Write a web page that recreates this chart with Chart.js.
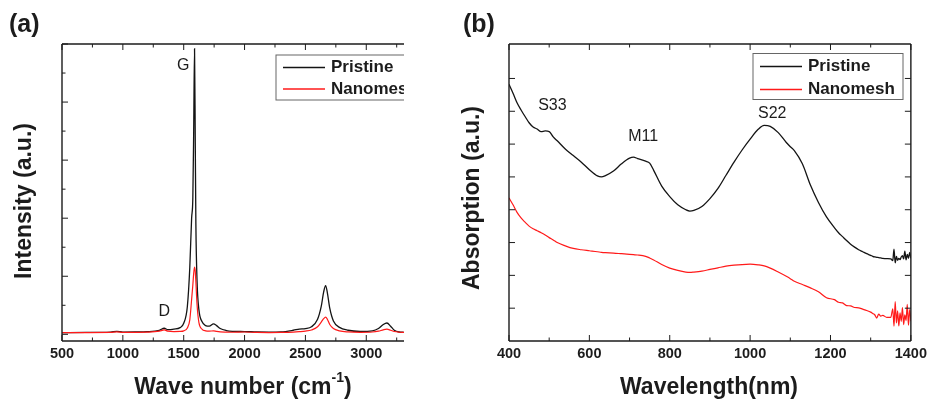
<!DOCTYPE html>
<html><head><meta charset="utf-8">
<script src="https://cdn.jsdelivr.net/npm/chart.js@4.4.1/dist/chart.umd.min.js"></script>
<style>
html,body{margin:0;padding:0;background:#fff;width:931px;height:404px;overflow:hidden;}
#wa{position:absolute;left:0;top:0;width:404px;height:404px;}
#wb{position:absolute;left:460px;top:0;width:471px;height:404px;}
canvas{display:block;}
</style></head><body>
<div id="wa"><canvas id="ca" width="404" height="404"></canvas></div>
<div id="wb"><canvas id="cb" width="471" height="404"></canvas></div>
<script>
// ---------- Panel (a): Raman ----------
const seriesNames = ['Pristine', 'Nanomesh'];
const waveNumbers = [500,700,900,950,1000,1100,1200,1300,1340,1370,1420,1470,1500,1530,1550,1565,1575,1582,1589,1595,1600,1610,1625,1650,1680,1710,1745,1770,1800,1850,1900,2000,2100,2200,2300,2400,2450,2500,2550,2600,2630,2650,2666,2680,2700,2730,2780,2850,2950,3050,3100,3140,3170,3200,3230,3270,3310];
const ramanPristine = [30,32,38,52,38,40,45,70,105,80,90,115,190,480,1150,2000,2350,3500,4920,3300,1900,900,420,220,150,140,180,150,100,65,52,48,40,38,42,70,90,100,130,260,480,730,840,720,450,230,120,70,50,60,100,170,195,140,70,40,35];
const ramanNanomesh = [28,30,32,42,32,34,38,55,75,55,48,50,60,110,250,600,850,1050,1156,1080,900,500,200,90,60,55,60,50,42,38,36,40,32,30,32,38,45,55,75,130,210,270,295,260,170,100,60,42,35,40,55,78,88,70,48,36,32];
const ramanXTicks = [500,750,1000,1250,1500,1750,2000,2250,2500,2750,3000,3250];
const ramanYTicks = [0,500,1000,1500,2000,2500,3000,3500,4000,4500,5000];
const ramanPeaks = [{text:'G', x:1497, y:4626}, {text:'D', x:1341, y:390}];

// ---------- Panel (b): Absorption ----------
const wavelengths = [400,410,420,430,440,450,460,470,480,490,500,510,520,540,560,580,600,620,630,640,660,680,700,710,720,740,750,760,780,800,820,840,850,860,880,900,920,940,960,980,1000,1020,1035,1050,1070,1090,1100,1110,1130,1150,1170,1190,1210,1220,1230,1240,1250,1260,1270,1280,1290,1300,1305,1310,1315,1320,1325,1330,1340,1350,1355,1358,1361,1364,1367,1370,1373,1376,1379,1382,1385,1388,1391,1394,1397,1400];
const absPristine = [7.82,7.55,7.26,7.04,6.84,6.65,6.52,6.46,6.38,6.40,6.38,6.22,6.10,5.85,5.65,5.45,5.22,5.03,5.00,5.04,5.18,5.40,5.57,5.60,5.56,5.48,5.42,5.20,4.72,4.40,4.15,4.00,3.96,3.98,4.10,4.34,4.65,5.05,5.45,5.82,6.15,6.45,6.57,6.54,6.35,6.05,5.92,5.80,5.40,4.75,4.22,3.78,3.45,3.30,3.18,3.06,2.95,2.86,2.78,2.72,2.66,2.61,2.58,2.56,2.55,2.54,2.53,2.52,2.51,2.50,2.45,2.80,2.38,2.58,2.46,2.52,2.48,2.56,2.60,2.50,2.74,2.47,2.64,2.52,2.70,2.52];
const absNanomesh = [4.36,4.15,3.92,3.75,3.62,3.50,3.42,3.36,3.30,3.23,3.15,3.08,3.00,2.90,2.82,2.78,2.75,2.72,2.70,2.69,2.68,2.66,2.64,2.63,2.62,2.58,2.53,2.47,2.33,2.22,2.15,2.10,2.09,2.10,2.13,2.18,2.23,2.28,2.31,2.33,2.34,2.32,2.29,2.22,2.10,1.97,1.90,1.82,1.72,1.62,1.50,1.32,1.26,1.18,1.16,1.08,1.07,1.02,1.01,0.97,0.93,0.88,0.84,0.80,0.70,0.82,0.76,0.78,0.72,0.72,0.98,0.45,1.20,0.55,0.92,0.46,0.86,0.60,1.02,0.50,0.80,0.62,1.12,0.48,0.96,0.60];
const absXTicks = [400,500,600,700,800,900,1000,1100,1200,1300,1400];
const absYTicks = [1,2,3,4,5,6,7,8];
const absBands = [{text:'S33', x:508, y:7.18}, {text:'M11', x:734, y:6.22}, {text:'S22', x:1055, y:6.93}];

const FONT = "'Liberation Sans', Arial, sans-serif";
const INK = '#1c1c1c';

function pts(xs, ys){ return xs.map((x,i)=>({x:x, y:ys[i]})); }

const decor = {
  id: 'decor',
  afterDatasetsDraw(chart, args, o) {
    const {ctx, chartArea: a} = chart;
    const xs = chart.scales.x, ys = chart.scales.y;
    ctx.save();
    ctx.strokeStyle = INK;
    ctx.lineWidth = 1.4;
    ctx.beginPath();
    if (o.sides.includes('left')) { ctx.moveTo(a.left, a.top); ctx.lineTo(a.left, a.bottom); }
    if (o.sides.includes('bottom')) { ctx.moveTo(a.left, a.bottom); ctx.lineTo(a.right, a.bottom); }
    if (o.sides.includes('top')) { ctx.moveTo(a.left, a.top); ctx.lineTo(a.right, a.top); }
    if (o.sides.includes('right')) { ctx.moveTo(a.right, a.top); ctx.lineTo(a.right, a.bottom); }
    ctx.stroke();
    ctx.lineWidth = 1;
    ctx.beginPath();
    xs.ticks.forEach(t => {
      const px = xs.getPixelForValue(t.value);
      const len = (t.value % o.xMajor === 0) ? 6 : 3.5;
      ctx.moveTo(px, a.bottom); ctx.lineTo(px, a.bottom - len);
      ctx.moveTo(px, a.top); ctx.lineTo(px, a.top + len);
    });
    ys.ticks.forEach(t => {
      const py = ys.getPixelForValue(t.value);
      const len = (t.value % o.yMajor === 0) ? 6 : 3.5;
      ctx.moveTo(a.left, py); ctx.lineTo(a.left + len, py);
      if (o.sides.includes('right')) { ctx.moveTo(a.right, py); ctx.lineTo(a.right - len, py); }
    });
    ctx.stroke();
    ctx.restore();
  },
  afterDraw(chart, args, o) {
    const {ctx} = chart;
    const xs = chart.scales.x, ys = chart.scales.y;
    ctx.save();
    ctx.fillStyle = INK;
    // panel label
    ctx.font = 'bold 25px ' + FONT;
    ctx.textAlign = 'left'; ctx.textBaseline = 'middle';
    ctx.fillText(o.panel.text, o.panel.x, o.panel.y);
    // annotations at data coordinates
    ctx.font = '16px ' + FONT;
    ctx.textAlign = 'center';
    o.notes.forEach(n => ctx.fillText(n.text, xs.getPixelForValue(n.x), ys.getPixelForValue(n.y)));
    // legend
    const L = o.legend;
    ctx.strokeStyle = '#666'; ctx.lineWidth = 1;
    ctx.strokeRect(L.x, L.y, L.w, L.h);
    ctx.font = 'bold 17px ' + FONT;
    ctx.textAlign = 'left';
    chart.data.datasets.forEach((d, i) => {
      const yy = L.y + L.rows[i];
      ctx.strokeStyle = d.borderColor; ctx.lineWidth = 1.6;
      ctx.beginPath(); ctx.moveTo(L.x + 7, yy); ctx.lineTo(L.x + 49, yy); ctx.stroke();
      ctx.fillStyle = INK;
      ctx.fillText(d.label, L.x + 55, yy);
    });
    // y title
    ctx.font = 'bold 23px ' + FONT;
    ctx.save();
    ctx.translate(o.yTitle.x, o.yTitle.y);
    ctx.rotate(-Math.PI / 2);
    ctx.textAlign = 'center';
    ctx.fillText(o.yTitle.text, 0, 0);
    ctx.restore();
    // x title (with optional superscript)
    const X = o.xTitle;
    ctx.font = 'bold 23px ' + FONT;
    const w1 = ctx.measureText(X.text).width;
    let wSup = 0, w3 = 0;
    if (X.sup) {
      ctx.font = 'bold 14px ' + FONT; wSup = ctx.measureText(X.sup).width;
      ctx.font = 'bold 23px ' + FONT; w3 = ctx.measureText(X.after).width;
    }
    let sx = X.x - (w1 + wSup + w3) / 2;
    ctx.textAlign = 'left';
    ctx.fillText(X.text, sx, X.y);
    if (X.sup) {
      ctx.font = 'bold 14px ' + FONT;
      ctx.fillText(X.sup, sx + w1, X.y - 10);
      ctx.font = 'bold 23px ' + FONT;
      ctx.fillText(X.after, sx + w1 + wSup, X.y);
    }
    ctx.restore();
  }
};

function makeChart(id, cfg) {
  return new Chart(document.getElementById(id), {
    type: 'line',
    data: {
      datasets: [
        {label: seriesNames[0], data: pts(cfg.x, cfg.s1), borderColor: '#141414', borderWidth: 1.3, pointRadius: 0, cubicInterpolationMode: 'monotone', order: 1},
        {label: seriesNames[1], data: pts(cfg.x, cfg.s2), borderColor: '#ff1a1a', borderWidth: 1.2, pointRadius: 0, cubicInterpolationMode: 'monotone', order: 0}
      ]
    },
    options: {
      responsive: false,
      animation: false,
      devicePixelRatio: 1,
      layout: {padding: {top: 44, right: cfg.padRight, left: 0, bottom: 0}},
      plugins: {
        legend: {display: false},
        tooltip: {enabled: false},
        decor: cfg.decor
      },
      scales: {
        x: {
          type: 'linear', min: cfg.xMin, max: cfg.xMax,
          grid: {display: false, drawTicks: false},
          border: {display: false},
          afterBuildTicks: s => { s.ticks = cfg.xTicks.map(v => ({value: v})); },
          afterFit: s => { s.height = 63; },
          ticks: {
            autoSkip: false, maxRotation: 0, padding: 4, color: INK,
            font: {family: FONT, size: 14.5, weight: 'bold'},
            callback: v => (v % cfg.decor.xMajor === 0 ? String(v) : '')
          }
        },
        y: {
          type: 'linear', min: cfg.yMin, max: cfg.yMax,
          grid: {display: false, drawTicks: false},
          border: {display: false},
          afterBuildTicks: s => { s.ticks = cfg.yTicks.map(v => ({value: v})); },
          afterFit: s => { s.width = cfg.yWidth; },
          ticks: {display: false}
        }
      }
    },
    plugins: [decor]
  });
}

makeChart('ca', {
  x: waveNumbers, s1: ramanPristine, s2: ramanNanomesh,
  xMin: 500, xMax: 3310, yMin: -115, yMax: 5000,
  xTicks: ramanXTicks, yTicks: ramanYTicks, yWidth: 62, padRight: 0,
  decor: {
    sides: ['left', 'top', 'bottom'], xMajor: 500, yMajor: 1000,
    panel: {text: '(a)', x: 9, y: 25},
    notes: ramanPeaks,
    legend: {x: 276, y: 55, w: 160, h: 45, rows: [12.5, 34]},
    yTitle: {text: 'Intensity (a.u.)', x: 25, y: 201},
    xTitle: {text: 'Wave number (cm', sup: '-1', after: ')', x: 243, y: 388}
  }
});

makeChart('cb', {
  x: wavelengths, s1: absPristine, s2: absNanomesh,
  xMin: 400, xMax: 1400, yMin: 0, yMax: 9.05,
  xTicks: absXTicks, yTicks: absYTicks, yWidth: 49, padRight: 20,
  decor: {
    sides: ['left', 'top', 'bottom', 'right'], xMajor: 200, yMajor: 1,
    panel: {text: '(b)', x: 3, y: 25},
    notes: absBands,
    legend: {x: 293, y: 53.5, w: 150, h: 46, rows: [13, 36]},
    yTitle: {text: 'Absorption (a.u.)', x: 13, y: 198},
    xTitle: {text: 'Wavelength(nm)', x: 249, y: 388}
  }
});
</script>
</body></html>
